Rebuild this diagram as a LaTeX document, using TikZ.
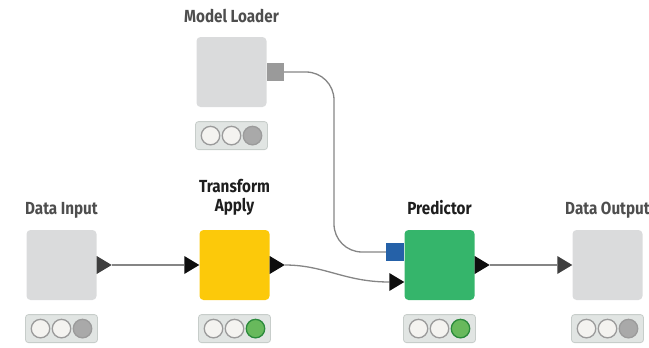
\documentclass[tikz,border=0pt]{standalone}
\usepackage{fontspec}
\newfontfamily\nodefont{Fira Sans}[FakeStretch=0.87]
\usetikzlibrary{positioning}

\definecolor{boxgray}{HTML}{DADBDC}
\definecolor{boxyellow}{HTML}{FCC90A}
\definecolor{boxgreen}{HTML}{35B56B}
\definecolor{portblue}{HTML}{2561A8}
\definecolor{portgray}{HTML}{9A9A9A}
\definecolor{wiregray}{HTML}{858585}
\definecolor{triblack}{HTML}{0E0E0E}
\definecolor{tridark}{HTML}{3E3E3E}
\definecolor{barfill}{HTML}{E1E5E3}
\definecolor{barline}{HTML}{C7CDCA}
\definecolor{lampoff}{HTML}{F4F3F0}
\definecolor{lampring}{HTML}{9B9B9B}
\definecolor{lampgray}{HTML}{A9A9A9}
\definecolor{lampgreen}{HTML}{68B95C}
\definecolor{lampgreenring}{HTML}{2B8A3C}
\definecolor{labelgray}{HTML}{4E4E4E}
\definecolor{labeldark}{HTML}{1E1E1E}

\tikzset{
  node box/.style={minimum size=70pt, rounded corners=4pt, inner sep=0pt},
  status bar/.style={minimum width=72pt, minimum height=28pt, rounded corners=3pt,
    fill=barfill, draw=barline, line width=0.8pt, inner sep=0pt},
  lamp/.style={circle, minimum size=18.5pt, inner sep=0pt, line width=1.3pt,
    draw=lampring, fill=lampoff},
  lbl/.style={font=\nodefont\bfseries\fontsize{17.5}{19}\selectfont, text=labelgray,
    align=center, anchor=base, inner sep=0pt},
  wire/.style={draw=wiregray, line width=1.3pt},
  tri/.pic={\fill[pic actions] (0,-9) -- (15,0) -- (0,9) -- cycle;}
}

% three traffic lights in a status bar, the last one coloured
\newcommand{\statuslamps}[3]{%
  \node[lamp] (#1-a) at ([xshift=-21pt]#1.center) {};
  \node[lamp] (#1-b) at (#1.center) {};
  \node[lamp, fill=#2, draw=#3] (#1-c) at ([xshift=21pt]#1.center) {};}

\begin{document}
\begin{tikzpicture}[x=1pt, y=-1pt]
  \useasboundingbox (0,0) rectangle (649,348);

  % node bodies
  \node[node box, fill=boxgray]   (ml) at (231.5,72)  {};
  \node[node box, fill=boxgray]   (di) at (61.5,265)  {};
  \node[node box, fill=boxyellow] (ta) at (234.5,265) {};
  \node[node box, fill=boxgreen]  (pr) at (439.5,265) {};
  \node[node box, fill=boxgray]   (do) at (607.5,265) {};

  % titles
  \node[lbl] (ml-lbl) at ([yshift=14pt]ml.north) {Model Loader};
  \node[lbl] (di-lbl) at ([yshift=15pt]di.north) {Data Input};
  \node[lbl, text=labeldark] (ta-lbl) at ([yshift=18pt]ta.north) {Transform\\Apply};
  \node[lbl, text=labeldark] (pr-lbl) at ([yshift=15pt]pr.north) {Predictor};
  \node[lbl] (do-lbl) at ([yshift=15pt]do.north) {Data Output};

  % status bars
  \node[status bar, below=14pt of ml] (ml-bar) {};
  \node[status bar, below=14pt of di] (di-bar) {};
  \node[status bar, below=14pt of ta] (ta-bar) {};
  \node[status bar, below=14pt of pr] (pr-bar) {};
  \node[status bar, below=14pt of do] (do-bar) {};
  \statuslamps{ml-bar}{lampgray}{lampring}
  \statuslamps{di-bar}{lampgray}{lampring}
  \statuslamps{ta-bar}{lampgreen}{lampgreenring}
  \statuslamps{pr-bar}{lampgreen}{lampgreenring}
  \statuslamps{do-bar}{lampgray}{lampring}

  % ports
  \node[fill=portgray, minimum width=17pt, minimum height=18pt, inner sep=0pt,
    anchor=west] (ml-port) at (ml.east) {};
  \node[fill=portblue, minimum size=18pt, inner sep=0pt,
    anchor=east] (pr-port) at ([yshift=13pt]pr.west) {};
  \coordinate (di-out) at ([xshift=15pt]di.east);
  \coordinate (ta-in)  at ([xshift=-15pt]ta.west);
  \coordinate (ta-out) at ([xshift=15pt]ta.east);
  \coordinate (pr-in)  at ([shift={(-15pt,-17pt)}]pr.west);
  \coordinate (pr-out) at ([xshift=15pt]pr.east);
  \coordinate (do-in)  at ([xshift=-15pt]do.west);
  \coordinate (ml-bend) at (334,160);

  % connections
  \draw[wire] (di-out) -- (ta-in);
  \draw[wire] (ta-out) .. controls +(40pt,0pt) and +(-45pt,0pt) .. (pr-in);
  \draw[wire, rounded corners=28pt] (ml-port.east) -| (ml-bend) |- (pr-port.west);
  \draw[wire] (pr-out) -- (do-in);

  \pic[fill=tridark]  at (di.east) {tri};
  \pic[fill=triblack] at (ta-in) {tri};
  \pic[fill=triblack] at (ta.east) {tri};
  \pic[fill=triblack] at (pr-in) {tri};
  \pic[fill=triblack] at (pr.east) {tri};
  \pic[fill=tridark]  at (do-in) {tri};
\end{tikzpicture}
\end{document}
